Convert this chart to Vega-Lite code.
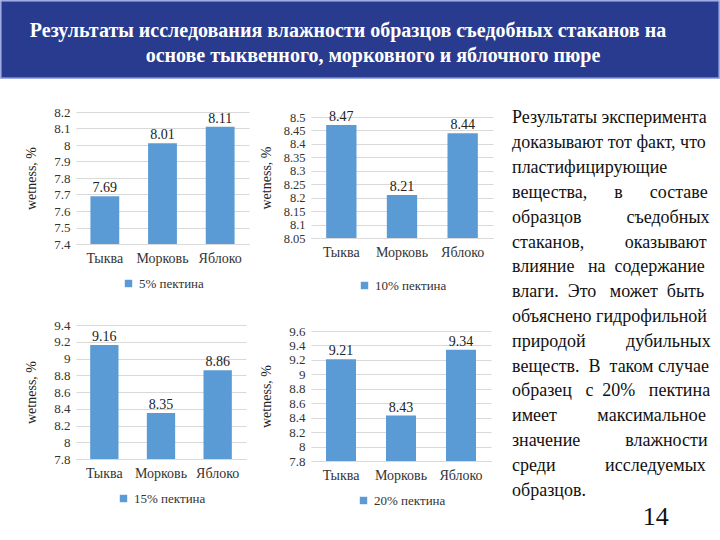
{
  "$schema": "https://vega.github.io/schema/vega-lite/v6.json",
  "padding": 0,
  "background": "white",
  "spacing": 27,
  "config": {
    "font": "Liberation Serif",
    "view": {"stroke": null},
    "axisX": {"labelFontSize": 14, "labelColor": "#333333", "labelPadding": 7, "labelAngle": 0, "ticks": false, "domain": true, "domainColor": "#d9d9d9", "grid": false, "title": null},
    "axisY": {"labelFontSize": 13, "labelColor": "#333333", "labelPadding": 6, "ticks": false, "domain": false, "gridColor": "#d9d9d9", "minExtent": 30, "maxExtent": 30, "titlePadding": 8, "titleFontSize": 14, "titleFontWeight": "normal", "titleColor": "#222222", "format": "~g"},
    "legend": {"title": null, "orient": "bottom", "symbolType": "square", "symbolSize": 55, "labelFontSize": 13, "labelColor": "#333333", "offset": 12, "symbolStrokeWidth": 0, "layout": {"bottom": {"anchor": "middle"}}},
    "text": {"font": "Liberation Serif"}
  },
  "vconcat": [
    {
      "width": 718,
      "height": 77,
      "view": {"fill": "#283b8e", "stroke": "#7d92d8", "strokeWidth": 1.5},
      "data": {"values": [
        {"line": 1, "text": "Результаты исследования влажности образцов  съедобных стаканов на"},
        {"line": 2, "text": "основе тыквенного, морковного и яблочного пюре"}
      ]},
      "encoding": {
        "y": {"field": "line", "type": "ordinal", "scale": {"type": "point", "domain": [1, 2], "padding": 1.04, "align": 0.577}, "axis": null},
        "text": {"field": "text", "type": "nominal"}
      },
      "layer": [
        {"transform": [{"filter": "datum.line == 1"}], "mark": {"type": "text", "font": "Liberation Serif", "fontSize": 20, "fontWeight": "bold", "color": "white", "baseline": "middle", "align": "center", "dx": -12}},
        {"transform": [{"filter": "datum.line == 2"}], "mark": {"type": "text", "font": "Liberation Serif", "fontSize": 20, "fontWeight": "bold", "color": "white", "baseline": "middle", "align": "center", "dx": 13}}
      ]
    },
    {
      "spacing": 19,
      "resolve": {"scale": {"x": "independent", "y": "independent", "color": "independent"}, "legend": {"color": "independent"}},
      "hconcat": [
        {"width": 4, "height": 1, "data": {"values": []}, "mark": "rect"},
        {
          "spacing": 10,
          "resolve": {"scale": {"x": "independent", "y": "independent", "color": "independent"}, "legend": {"color": "independent"}},
          "hconcat": [
            {
              "spacing": 28,
              "resolve": {"scale": {"x": "independent", "y": "independent", "color": "independent"}, "legend": {"color": "independent"}},
              "vconcat": [
                {
                  "width": 173, "height": 132,
                  "data": {"values": [
                    {"fruit": "Тыква", "wetness": 7.69, "series": "5% пектина"},
                    {"fruit": "Морковь", "wetness": 8.01, "series": "5% пектина"},
                    {"fruit": "Яблоко", "wetness": 8.11, "series": "5% пектина"}
                  ]},
                  "encoding": {
                    "x": {"field": "fruit", "type": "nominal", "sort": null, "scale": {"paddingInner": 0.5, "paddingOuter": 0.25}},
                    "y": {"field": "wetness", "type": "quantitative", "scale": {"domain": [7.4, 8.2], "zero": false, "nice": false}, "axis": {"values": [7.4, 7.5, 7.6, 7.7, 7.8, 7.9, 8, 8.1, 8.2], "title": "wetness, %"}}
                  },
                  "layer": [
                    {"mark": {"type": "bar", "clip": true}, "encoding": {"color": {"field": "series", "type": "nominal", "scale": {"range": ["#5b9bd5"]}}}},
                    {"mark": {"type": "text", "font": "Liberation Serif", "baseline": "bottom", "dy": -1, "fontSize": 14, "color": "#222222"}, "encoding": {"text": {"field": "wetness", "type": "quantitative", "format": ".2f"}}}
                  ]
                },
                {
                  "width": 170, "height": 134,
                  "data": {"values": [
                    {"fruit": "Тыква", "wetness": 9.16, "series": "15% пектина"},
                    {"fruit": "Морковь", "wetness": 8.35, "series": "15% пектина"},
                    {"fruit": "Яблоко", "wetness": 8.86, "series": "15% пектина"}
                  ]},
                  "encoding": {
                    "x": {"field": "fruit", "type": "nominal", "sort": null, "scale": {"paddingInner": 0.5, "paddingOuter": 0.25}},
                    "y": {"field": "wetness", "type": "quantitative", "scale": {"domain": [7.8, 9.4], "zero": false, "nice": false}, "axis": {"values": [7.8, 8, 8.2, 8.4, 8.6, 8.8, 9, 9.2, 9.4], "title": "wetness, %"}}
                  },
                  "layer": [
                    {"mark": {"type": "bar", "clip": true}, "encoding": {"color": {"field": "series", "type": "nominal", "scale": {"range": ["#5b9bd5"]}}}},
                    {"mark": {"type": "text", "font": "Liberation Serif", "baseline": "bottom", "dy": -1, "fontSize": 14, "color": "#222222"}, "encoding": {"text": {"field": "wetness", "type": "quantitative", "format": ".2f"}}}
                  ]
                }
              ]
            },
            {
              "spacing": -3,
              "resolve": {"scale": {"x": "independent", "y": "independent", "color": "independent"}, "legend": {"color": "independent"}},
              "vconcat": [
                {"width": 1, "height": 1, "data": {"values": []}, "mark": "rect"},
                {
                  "spacing": 32,
                  "resolve": {"scale": {"x": "independent", "y": "independent", "color": "independent"}, "legend": {"color": "independent"}},
                  "vconcat": [
                    {
                      "width": 182, "height": 121,
                      "data": {"values": [
                        {"fruit": "Тыква", "wetness": 8.47, "series": "10% пектина"},
                        {"fruit": "Морковь", "wetness": 8.21, "series": "10% пектина"},
                        {"fruit": "Яблоко", "wetness": 8.44, "series": "10% пектина"}
                      ]},
                      "encoding": {
                        "x": {"field": "fruit", "type": "nominal", "sort": null, "scale": {"paddingInner": 0.5, "paddingOuter": 0.25}},
                        "y": {"field": "wetness", "type": "quantitative", "scale": {"domain": [8.05, 8.5], "zero": false, "nice": false}, "axis": {"values": [8.05, 8.1, 8.15, 8.2, 8.25, 8.3, 8.35, 8.4, 8.45, 8.5], "title": "wetness, %", "labelFontSize": 12.5}}
                      },
                      "layer": [
                        {"mark": {"type": "bar", "clip": true}, "encoding": {"color": {"field": "series", "type": "nominal", "scale": {"range": ["#5b9bd5"]}, "legend": {"offset": 20}}}},
                        {"mark": {"type": "text", "font": "Liberation Serif", "baseline": "bottom", "dy": -1, "fontSize": 14, "color": "#222222"}, "encoding": {"text": {"field": "wetness", "type": "quantitative", "format": ".2f"}}}
                      ]
                    },
                    {
                      "width": 180, "height": 130,
                      "data": {"values": [
                        {"fruit": "Тыква", "wetness": 9.21, "series": "20% пектина"},
                        {"fruit": "Морковь", "wetness": 8.43, "series": "20% пектина"},
                        {"fruit": "Яблоко", "wetness": 9.34, "series": "20% пектина"}
                      ]},
                      "encoding": {
                        "x": {"field": "fruit", "type": "nominal", "sort": null, "scale": {"paddingInner": 0.5, "paddingOuter": 0.25}},
                        "y": {"field": "wetness", "type": "quantitative", "scale": {"domain": [7.8, 9.6], "zero": false, "nice": false}, "axis": {"values": [7.8, 8, 8.2, 8.4, 8.6, 8.8, 9, 9.2, 9.4, 9.6], "title": "wetness, %"}}
                      },
                      "layer": [
                        {"mark": {"type": "bar", "clip": true}, "encoding": {"color": {"field": "series", "type": "nominal", "scale": {"range": ["#5b9bd5"]}}}},
                        {"mark": {"type": "text", "font": "Liberation Serif", "baseline": "bottom", "dy": -1, "fontSize": 14, "color": "#222222"}, "encoding": {"text": {"field": "wetness", "type": "quantitative", "format": ".2f"}}}
                      ]
                    }
                  ]
                }
              ]
            }
          ]
        },
        {
          "width": 197,
          "height": 422,
          "layer": [
            {
              "data": {"values": [
                {"line": 1, "text": "Результаты эксперимента"},
                {"line": 2, "text": "доказывают тот факт, что"},
                {"line": 3, "text": "пластифицирующие"},
                {"line": 4, "text": "вещества,\u00a0\u00a0\u00a0\u00a0\u00a0\u00a0в\u00a0\u00a0\u00a0\u00a0\u00a0\u00a0составе"},
                {"line": 5, "text": "образцов\u00a0\u00a0\u00a0\u00a0\u00a0\u00a0\u00a0\u00a0\u00a0\u00a0съедобных"},
                {"line": 6, "text": "стаканов,\u00a0\u00a0\u00a0\u00a0\u00a0\u00a0\u00a0\u00a0\u00a0оказывают"},
                {"line": 7, "text": "влияние\u00a0\u00a0\u00a0на\u00a0\u00a0содержание"},
                {"line": 8, "text": "влаги.\u00a0\u00a0Это\u00a0\u00a0\u00a0может\u00a0\u00a0быть"},
                {"line": 9, "text": "объяснено гидрофильной"},
                {"line": 10, "text": "природой\u00a0\u00a0\u00a0\u00a0\u00a0\u00a0\u00a0\u00a0\u00a0дубильных"},
                {"line": 11, "text": "веществ.\u00a0\u00a0В\u00a0\u00a0таком случае"},
                {"line": 12, "text": "образец\u00a0\u00a0\u00a0с\u00a0\u00a020%\u00a0\u00a0\u00a0пектина"},
                {"line": 13, "text": "имеет\u00a0\u00a0\u00a0\u00a0\u00a0\u00a0\u00a0\u00a0\u00a0максимальное"},
                {"line": 14, "text": "значение\u00a0\u00a0\u00a0\u00a0\u00a0\u00a0\u00a0\u00a0\u00a0\u00a0влажности"},
                {"line": 15, "text": "среди\u00a0\u00a0\u00a0\u00a0\u00a0\u00a0\u00a0\u00a0\u00a0\u00a0\u00a0исследуемых"},
                {"line": 16, "text": "образцов."}
              ]},
              "mark": {"type": "text", "font": "Liberation Serif", "align": "left", "baseline": "middle", "fontSize": 18, "color": "#111111", "dy": -6, "dx": -2},
              "encoding": {
                "x": {"datum": 0, "type": "quantitative", "scale": {"domain": [0, 1]}, "axis": null},
                "y": {"field": "line", "type": "ordinal", "scale": {"type": "point", "domain": [1, 2, 3, 4, 5, 6, 7, 8, 9, 10, 11, 12, 13, 14, 15, 16, 17], "padding": 0.5}, "axis": null},
                "text": {"field": "text", "type": "nominal"}
              }
            },
            {
              "data": {"values": [{"line": 17, "text": "14"}]},
              "mark": {"type": "text", "font": "Liberation Serif", "align": "center", "baseline": "middle", "fontSize": 26, "dy": -5, "color": "#111111"},
              "encoding": {
                "x": {"datum": 0.72, "type": "quantitative", "scale": {"domain": [0, 1]}, "axis": null},
                "y": {"field": "line", "type": "ordinal", "scale": {"type": "point", "domain": [1, 2, 3, 4, 5, 6, 7, 8, 9, 10, 11, 12, 13, 14, 15, 16, 17], "padding": 0.5}, "axis": null},
                "text": {"field": "text", "type": "nominal"}
              }
            }
          ]
        }
      ]
    }
  ]
}
